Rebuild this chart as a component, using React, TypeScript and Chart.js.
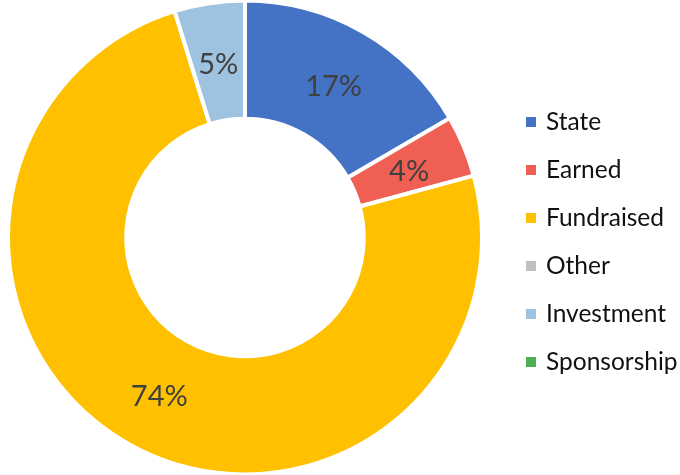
import React, { useEffect, useRef } from "react";
import { Chart, registerables } from "chart.js";

Chart.register(...registerables);

const categories = ["State", "Earned", "Fundraised", "Other", "Investment", "Sponsorship"];
const shares = [16.6, 4.2, 74.4, 0, 4.8, 0];
const sliceColors = ["#4472C4", "#EF5F53", "#FFC000", "#BFBFBF", "#9DC3E0", "#4CAF50"];

const FONT = "Lato, 'Open Sans', sans-serif";

const valueLabelPlugin = {
  id: "valueLabels",
  afterDatasetsDraw(chart: any) {
    const ctx = chart.ctx;
    const meta = chart.getDatasetMeta(0);
    const data = chart.data.datasets[0].data as number[];
    const total = data.reduce((a, b) => a + b, 0);
    ctx.save();
    ctx.font = `29px ${FONT}`;
    ctx.fillStyle = "#404040";
    ctx.textAlign = "center";
    ctx.textBaseline = "middle";
    meta.data.forEach((arc: any, i: number) => {
      const v = data[i];
      if (!v) return;
      const p = arc.tooltipPosition();
      ctx.fillText(Math.round((v / total) * 100) + "%", p.x, p.y + 3);
    });
    ctx.restore();
  },
};

const sideLegendPlugin = {
  id: "sideLegend",
  afterDraw(chart: any) {
    const ctx = chart.ctx;
    const labels = chart.data.labels as string[];
    const colors = chart.data.datasets[0].backgroundColor as string[];
    const x0 = chart.chartArea.right + 36;
    const yStart = 122;
    const step = 48;
    ctx.save();
    ctx.font = `24.5px ${FONT}`;
    ctx.textAlign = "left";
    ctx.textBaseline = "middle";
    labels.forEach((lab, i) => {
      const y = yStart + i * step;
      ctx.fillStyle = colors[i];
      ctx.fillRect(x0, y - 5, 10, 10);
      ctx.fillStyle = "#111111";
      ctx.fillText(lab, x0 + 20, y);
    });
    ctx.restore();
  },
};

export default function App() {
  const ref = useRef<HTMLCanvasElement | null>(null);
  useEffect(() => {
    if (!ref.current) return;
    const chart = new Chart(ref.current, {
      type: "doughnut",
      data: {
        labels: categories,
        datasets: [
          {
            data: shares,
            backgroundColor: sliceColors,
            borderColor: "#ffffff",
            borderWidth: 4,
          },
        ],
      },
      options: {
        responsive: false,
        animation: false,
        radius: 237,
        cutout: 118,
        layout: { padding: { left: 0, right: 190, top: 0, bottom: 0 } },
        plugins: {
          legend: { display: false },
          tooltip: { enabled: false },
        },
      } as any,
      plugins: [valueLabelPlugin, sideLegendPlugin],
    });
    return () => chart.destroy();
  }, []);
  return (
    <div style={{ position: "fixed", left: 0, top: 0, width: 680, height: 475, background: "#fff" }}>
      <canvas ref={ref} width={680} height={475} style={{ display: "block" }} />
    </div>
  );
}
